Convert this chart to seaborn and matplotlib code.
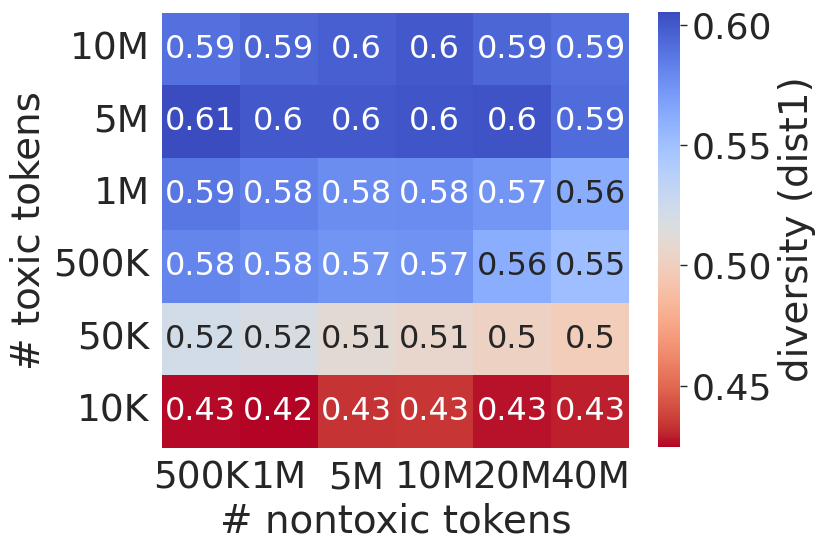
import matplotlib
matplotlib.use("Agg")
import matplotlib.pyplot as plt
import seaborn as sns
import numpy as np
import pandas as pd

toxic_labels = ["10M", "5M", "1M", "500K", "50K", "10K"]
nontoxic_labels = ["500K", "1M", "5M", "10M", "20M", "40M"]

row_10M = [0.590, 0.594, 0.597, 0.600, 0.5945, 0.590]
row_5M = [0.6052, 0.600, 0.600, 0.601, 0.602, 0.592]
row_1M = [0.587, 0.583, 0.577, 0.578, 0.573, 0.562]
row_500K = [0.581, 0.578, 0.574, 0.575, 0.561, 0.551]
row_50K = [0.522, 0.519, 0.510, 0.507, 0.502, 0.498]
row_10K = [0.4255, 0.4245, 0.433, 0.434, 0.427, 0.429]

data = pd.DataFrame([row_10M, row_5M, row_1M, row_500K, row_50K, row_10K],
                    index=toxic_labels, columns=nontoxic_labels)

sns.set_theme(style="white")
plt.rcParams['font.family'] = ['DejaVu Sans']

fig = plt.figure(figsize=(8.3, 5.53), dpi=100)
ax = fig.add_axes([0.1952, 0.1899, 0.5627, 0.7866])
cax = fig.add_axes([0.7928, 0.1917, 0.0265, 0.7866])

sns.heatmap(data, ax=ax, cbar_ax=cax, cmap="coolwarm_r", annot=True,
            annot_kws={"fontsize": 23}, cbar_kws={"label": "diversity (dist1)"})

ax.set_xlabel("# nontoxic tokens", fontsize=28)
ax.set_ylabel("# toxic tokens", fontsize=28)
ax.tick_params(axis="both", labelsize=27, length=0, pad=9)
ax.set_yticklabels(ax.get_yticklabels(), rotation=0)
ax.set_xticklabels(ax.get_xticklabels(), rotation=0)

cax.set_yticks([0.45, 0.50, 0.55, 0.60])
cax.set_yticklabels(["0.45", "0.50", "0.55", "0.60"])
cax.tick_params(labelsize=26, length=5, width=1, right=True, color=".15")
cax.yaxis.label.set_size(28)

fig.savefig("out.png", dpi=100)
